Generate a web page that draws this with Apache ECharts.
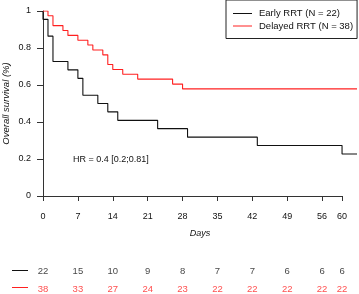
<!DOCTYPE html>
<html>
<head>
<meta charset="utf-8">
<script src="https://cdn.jsdelivr.net/npm/echarts@6/dist/echarts.min.js"></script>
<style>
  html, body { margin: 0; padding: 0; background: #fff; }
  #chart { width: 359px; height: 294px; }
</style>
</head>
<body>
<div id="chart"></div>
<script>
// Kaplan-Meier steps (time in days, survival after the step)
const earlyTimes = [0, 0, 1, 2, 5, 7, 8, 11, 13, 15, 23, 29, 43, 60, 63]
const earlySurv = [1, 0.955, 0.864, 0.727, 0.682, 0.636, 0.545, 0.5, 0.455, 0.409, 0.364, 0.318, 0.273, 0.227, 0.227]
const delayedTimes = [0, 1, 2, 4, 5, 7, 9, 10, 12, 13, 14, 16, 19, 26, 28, 63]
const delayedSurv = [1, 0.974, 0.921, 0.895, 0.868, 0.842, 0.816, 0.789, 0.763, 0.711, 0.684, 0.658, 0.632, 0.605, 0.579, 0.579]

// number at risk table
const riskDays = [0, 7, 14, 21, 28, 35, 42, 49, 56, 60]
const riskEarly = [22, 15, 10, 9, 8, 7, 7, 6, 6, 6]
const riskDelayed = [38, 33, 27, 24, 23, 22, 22, 22, 22, 22]

const FONT = 'Liberation Sans, Arial, sans-serif'
const RED = '#ff2020'

const zip = (xs, ys) => xs.map((x, i) => [x, ys[i]])

const chart = echarts.init(document.getElementById('chart'), null, { renderer: 'canvas' })

const riskLabel = color => ({
  show: true,
  position: 'inside',
  color: color,
  fontSize: 9.5,
  fontFamily: FONT,
  formatter: p => p.value[2]
})

const option = {
  animation: false,
  backgroundColor: '#fff',
  textStyle: { fontFamily: FONT },
  grid: [
    { left: 43, right: 2, top: 11, bottom: 98, containLabel: false, outerBoundsMode: 'none' },
    { left: 43, right: 2, top: 271, height: 18, containLabel: false, outerBoundsMode: 'none' }
  ],
  legend: {
    orient: 'vertical',
    left: 226,
    top: 0,
    icon: 'rect',
    itemWidth: 19,
    itemHeight: 1,
    itemGap: 2.5,
    padding: [8.5, 4, 7.5, 7],
    borderColor: '#222',
    borderWidth: 1,
    textStyle: { fontSize: 9.5, color: '#111', fontFamily: FONT, padding: [0, 0, 0, 2] },
    data: ['Early RRT (N = 22)', 'Delayed RRT (N = 38)']
  },
  xAxis: [
    {
      type: 'value',
      gridIndex: 0,
      min: 0,
      max: 63,
      name: 'Days',
      nameLocation: 'middle',
      nameGap: 33,
      nameMoveOverlap: false,
      nameTextStyle: { fontSize: 9, fontStyle: 'italic', color: '#111', fontFamily: FONT },
      axisLine: { show: false },
      axisTick: { show: true, length: 5, customValues: riskDays, lineStyle: { color: '#333' } },
      axisLabel: { customValues: riskDays, fontSize: 9, color: '#111', margin: 16, fontFamily: FONT },
      splitLine: { show: false }
    },
    {
      type: 'value',
      gridIndex: 1,
      min: 0,
      max: 63,
      show: false
    }
  ],
  yAxis: [
    {
      type: 'value',
      gridIndex: 0,
      min: 0,
      max: 1,
      interval: 0.2,
      name: 'Overall survival (%)',
      nameLocation: 'middle',
      nameGap: 32,
      nameMoveOverlap: false,
      nameTextStyle: { fontSize: 9.5, fontStyle: 'italic', color: '#111', fontFamily: FONT },
      axisLine: { show: true, lineStyle: { color: '#333' } },
      axisTick: { show: true, length: 6, lineStyle: { color: '#333' } },
      axisLabel: { fontSize: 9, color: '#111', margin: 12, fontFamily: FONT },
      splitLine: { show: false }
    },
    {
      type: 'category',
      gridIndex: 1,
      data: ['early', 'delayed'],
      inverse: true,
      boundaryGap: false,
      show: false
    }
  ],
  series: [
    {
      name: 'Early RRT (N = 22)',
      type: 'line',
      step: 'end',
      symbol: 'none',
      data: zip(earlyTimes, earlySurv),
      lineStyle: { color: '#111', width: 1.1 },
      itemStyle: { color: '#111' },
      // x-axis line, drawn only up to the last tick like the original
      markLine: {
        silent: true,
        symbol: 'none',
        label: { show: false },
        lineStyle: { color: '#333', width: 1, type: 'solid' },
        data: [[{ coord: [0, 0] }, { coord: [60, 0] }]]
      }
    },
    {
      name: 'Delayed RRT (N = 38)',
      type: 'line',
      step: 'end',
      symbol: 'none',
      data: zip(delayedTimes, delayedSurv),
      lineStyle: { color: RED, width: 1.1 },
      itemStyle: { color: RED }
    },
    {
      type: 'scatter',
      xAxisIndex: 1,
      yAxisIndex: 1,
      symbolSize: 1,
      itemStyle: { color: 'transparent' },
      label: riskLabel('#111'),
      data: riskDays.map((d, i) => [d, 'early', riskEarly[i]])
    },
    {
      type: 'scatter',
      xAxisIndex: 1,
      yAxisIndex: 1,
      symbolSize: 1,
      itemStyle: { color: 'transparent' },
      label: riskLabel(RED),
      data: riskDays.map((d, i) => [d, 'delayed', riskDelayed[i]])
    }
  ],
  graphic: [
    {
      type: 'text',
      left: 73,
      top: 155,
      style: { text: 'HR = 0.4 [0.2;0.81]', fontSize: 9, fill: '#111', fontFamily: FONT }
    },
    { type: 'line', shape: { x1: 12, y1: 270.5, x2: 28, y2: 270.5 }, style: { stroke: '#111', lineWidth: 1 } },
    { type: 'line', shape: { x1: 12, y1: 287.5, x2: 28, y2: 287.5 }, style: { stroke: RED, lineWidth: 1 } }
  ]
}

chart.setOption(option)
</script>
</body>
</html>
